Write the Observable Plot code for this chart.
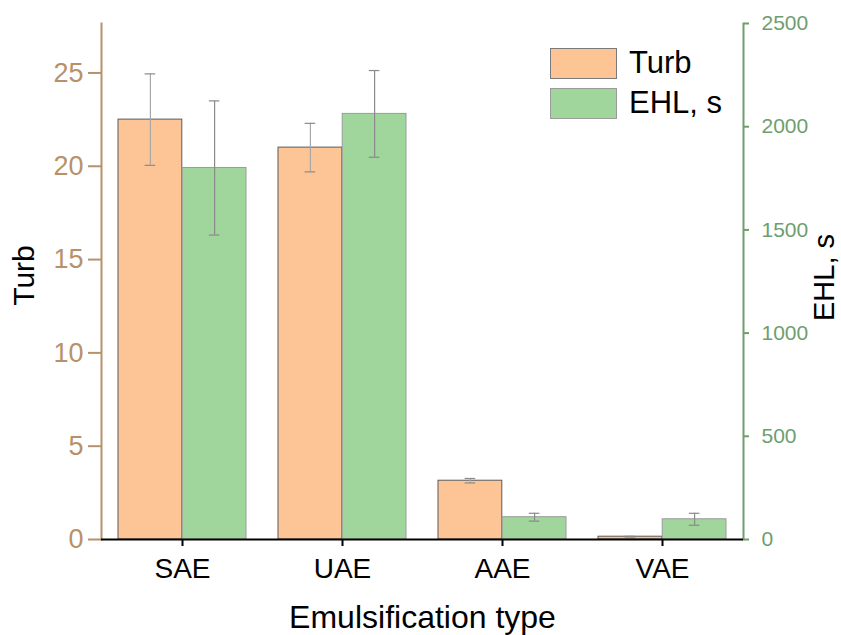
<!DOCTYPE html>
<html>
<head>
<meta charset="utf-8">
<script src="https://cdn.jsdelivr.net/npm/d3@7"></script>
<script src="https://cdn.jsdelivr.net/npm/@observablehq/plot@0.6"></script>
<style>
  html, body { margin: 0; padding: 0; background: #fff; }
  #wrap { position: relative; width: 841px; height: 635px; font-family: "Liberation Sans", Arial, sans-serif; }
  #legend { position: absolute; left: 550px; top: 47px; }
  .row { display: flex; align-items: center; height: 32px; margin-bottom: 8px; }
  .sw { width: 67px; height: 31px; box-sizing: border-box; margin-right: 12px; }
  .lt { font-size: 31px; color: #000; line-height: 32px; }
</style>
</head>
<body>
<div id="wrap"></div>
<script>
const categories = ["SAE", "UAE", "AAE", "VAE"];
const turb = [22.5, 21.0, 3.15, 0.15];
const turbErr = [2.45, 1.3, 0.12, 0.02];
const ehl = [1800, 2062, 108, 98];
const ehlErr = [325, 210, 19, 29];
const turbTicks = [0, 5, 10, 15, 20, 25];
const ehlTicks = [0, 500, 1000, 1500, 2000, 2500];

const turbMax = 27.65;
const ehlMax = 2500;
const k = turbMax / ehlMax; // EHL -> left-scale units

const orange = "#FDC596";
const green = "#A0D59C";
const brown = "#B8916B";
const axGreen = "#6E9E6E";

const W = 841, H = 635;
const mL = 101, mR = 98, mT = 23, mB = 96;
const step = (W - mL - mR) / categories.length;
const bw = step * 0.8;
const half = bw / 2;
const off = bw / 4;
const capInset = half - 5.5;

const data = categories.map((c, i) => ({
  cat: c,
  turb: turb[i], tLo: turb[i] - turbErr[i], tHi: turb[i] + turbErr[i],
  ehl: ehl[i] * k, eLo: (ehl[i] - ehlErr[i]) * k, eHi: (ehl[i] + ehlErr[i]) * k
}));

const chart = Plot.plot({
  width: W, height: H,
  marginLeft: mL, marginRight: mR, marginTop: mT, marginBottom: mB,
  style: { fontFamily: "Liberation Sans, Arial, sans-serif", background: "#fff" },
  x: { domain: categories, paddingInner: 0.2, paddingOuter: 0.1, label: null },
  y: { domain: [0, turbMax], label: null },
  marks: [
    Plot.barY(data, { x: "cat", y: "turb", fill: orange, stroke: "#5a5a5a", strokeWidth: 1, insetRight: half }),
    Plot.barY(data, { x: "cat", y: "ehl", fill: green, stroke: "#9a9a9a", strokeWidth: 1, insetLeft: half }),
    Plot.ruleX(data, { x: "cat", y1: "tLo", y2: "tHi", dx: -off, stroke: "#a8a8a8", strokeWidth: 1.2 }),
    Plot.tickY(data, { x: "cat", y: "tLo", dx: -off, insetLeft: capInset, insetRight: capInset, stroke: "#8a8a8a", strokeWidth: 1.2 }),
    Plot.tickY(data, { x: "cat", y: "tHi", dx: -off, insetLeft: capInset, insetRight: capInset, stroke: "#8a8a8a", strokeWidth: 1.2 }),
    Plot.ruleX(data, { x: "cat", y1: "eLo", y2: "eHi", dx: off, stroke: "#8a8a8a", strokeWidth: 1.2 }),
    Plot.tickY(data, { x: "cat", y: "eLo", dx: off, insetLeft: capInset, insetRight: capInset, stroke: "#8a8a8a", strokeWidth: 1.2 }),
    Plot.tickY(data, { x: "cat", y: "eHi", dx: off, insetLeft: capInset, insetRight: capInset, stroke: "#8a8a8a", strokeWidth: 1.2 }),
    Plot.frame({ anchor: "left", stroke: brown, strokeWidth: 2 }),
    Plot.frame({ anchor: "right", stroke: axGreen, strokeWidth: 2 }),
    Plot.ruleY([0], { stroke: "#000", strokeWidth: 2 }),
    Plot.axisY({
      anchor: "left", ticks: turbTicks, tickSize: 13, tickPadding: 5,
      color: brown, stroke: brown, strokeWidth: 2, fontSize: 27,
      label: null
    }),
    Plot.axisY({
      anchor: "right", ticks: ehlTicks.map(v => v * k), tickFormat: d => String(Math.round(d / k)),
      tickSize: 5, tickPadding: 13, color: axGreen, stroke: axGreen, strokeWidth: 2, fontSize: 21,
      label: null
    }),
    Plot.axisX({ tickSize: 7, tickPadding: 12, fontSize: 28, color: "#000", strokeWidth: 2, label: null }),
    Plot.text(["Turb"], { frameAnchor: "left", textAnchor: "middle", dx: -77, dy: -6, rotate: -90, fontSize: 30, fill: "#000" }),
    Plot.text(["EHL, s"], { frameAnchor: "right", textAnchor: "middle", dx: 81, dy: -4, rotate: -90, fontSize: 29, fill: "#000" }),
    Plot.text(["Emulsification type"], { frameAnchor: "bottom", dy: 88, fontSize: 32, fill: "#000" })
  ]
});

const wrap = document.getElementById("wrap");
wrap.appendChild(chart);

const legend = document.createElement("div");
legend.id = "legend";
legend.innerHTML =
  `<div class="row"><div class="sw" style="background:${orange};border:1.5px solid #7a7a7a"></div><div class="lt">Turb</div></div>` +
  `<div class="row"><div class="sw" style="background:${green};border:1.5px solid #9a9a9a"></div><div class="lt">EHL, s</div></div>`;
wrap.appendChild(legend);
</script>
</body>
</html>
